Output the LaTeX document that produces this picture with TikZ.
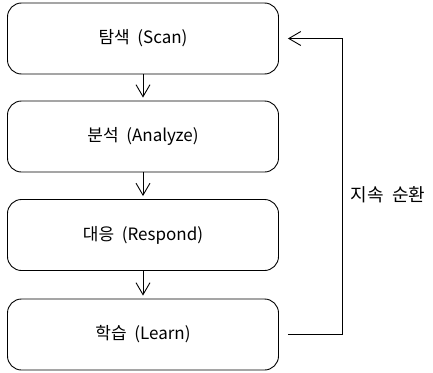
\documentclass[tikz,border=0pt]{standalone}
\usepackage{fontspec}
\setmainfont{Noto Sans CJK KR}
\usetikzlibrary{arrows.meta}
\tikzset{
  stagebox/.style={draw, line width=0.9pt, rounded corners=14pt, minimum width=271pt, minimum height=71pt, inner sep=0pt, font=\fontsize{17}{20}\selectfont},
  flow/.style={draw, line width=0.9pt, -{Straight Barb[length=12pt,width=14pt,line width=0.9pt]}},
  lbl/.style={font=\fontsize{18}{21}\selectfont, inner sep=0pt}
}
\begin{document}
\begin{tikzpicture}[x=1pt,y=-1pt]
\useasboundingbox (0,0) rectangle (433,372);
\node[stagebox] (b1) at (143,38.5) {탐색 \ (Scan)};
\node[stagebox] (b2) at (143,136.5) {분석 \ (Analyze)};
\node[stagebox] (b3) at (143,235) {대응 \ (Respond)};
\node[stagebox] (b4) at (143,334.5) {학습 \ (Learn)};
\draw[flow, shorten >=3pt] (b1.south) -- (b2.north);
\draw[flow, shorten >=3pt] (b2.south) -- (b3.north);
\draw[flow, shorten >=3pt] (b3.south) -- (b4.north);
\coordinate (c) at (342,0);
\draw[flow] ([xshift=9pt]b4.east) -- (b4.east -| c) -- (b1.east -| c) -- ([xshift=9pt]b1.east);
\node[lbl] (loop) at (388,195) {지속\hspace{0.45em}순환};
\end{tikzpicture}
\end{document}
